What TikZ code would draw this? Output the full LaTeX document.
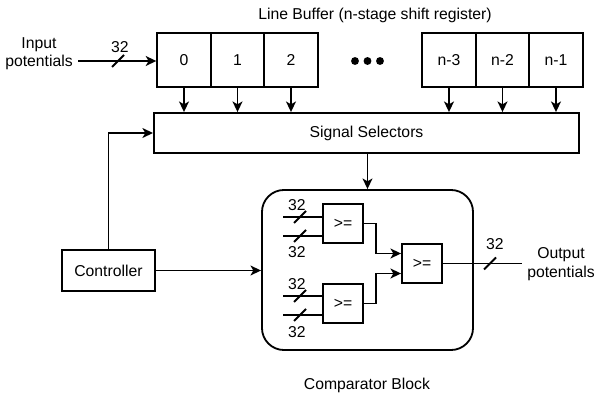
\documentclass[tikz,border=0pt]{standalone}
\usepackage{fontspec}
\setmainfont{Liberation Sans}
\usetikzlibrary{arrows.meta}
\begin{document}
\begin{tikzpicture}[x=0.025cm, y=-0.025cm, line width=1.3pt,
    >={Stealth[length=7.5pt,width=7pt,inset=2pt]}]
      \tikzstyle{every node} = [font=\fontsize{11.2}{13}\selectfont]
      \tikzstyle{cell} = [draw, inner sep=0pt, minimum width=1.3375cm, minimum height=1.35cm]
      \tikzstyle{gate} = [draw, inner sep=0pt, minimum width=1.0cm, minimum height=0.975cm]
      \useasboundingbox (0,0) rectangle (595,394);

      % line buffer
      \node at (375,15) {Line Buffer (n-stage shift register)};
      \foreach \i/\t in {0/0,1/1,2/2}{
        \node[cell] (c\i) at (184+53.5*\i,60) {\t};
      }
      \foreach \i/\t in {3/n-3,4/n-2,5/n-1}{
        \node[cell] (c\i) at (449+53.5*\i-160.5,60) {\t};
      }
      \foreach \x in {355,367.5,380}{
        \fill (\x,61) circle (2.8pt);
      }

      \node[align=center] (inp) at (39,53.5) {Input\\potentials};
      \coordinate (inpstart) at (78,61);
      \draw[->] (inpstart) -- (inpstart -| c0.west);
      \draw (118,61) ++(-6,6) -- ++(12,-12);
      \node at (120,47) {32};

      % selectors and controller
      \node[draw, minimum width=10.625cm, minimum height=1.0cm] (sel) at (366.5,133) {Signal Selectors};
      \foreach \i in {0,...,5}{
        \draw[->] (c\i.south) -- (c\i.south |- sel.north);
      }
      \node[draw, minimum width=2.325cm, minimum height=1.025cm] (ctrl) at (108.5,270.5) {Controller};
      \draw[->] (ctrl.north) |- (sel.west);

      % comparator block
      \node[draw, rounded corners=0.55cm, minimum width=5.275cm, minimum height=4.0cm] (cmp) at (367.5,270) {};
      \node at (367,385) {Comparator Block};
      \draw[->] (sel.south -| cmp.north) -- (cmp.north);
      \draw[->] (ctrl.east) -- (ctrl.east -| cmp.west);

      \node[gate] (g1) at (343,223.5) {>=};
      \node[gate] (g2) at (343,303.5) {>=};
      \node[gate] (g3) at (422,263.5) {>=};
      \foreach \y/\g/\ly in {217/g1/205, 236/g1/252, 296/g2/284, 315/g2/332}{
        \coordinate (in\y) at (283,\y);
        \draw (in\y) -- (in\y -| \g.west);
        \draw (300,\y) ++(-6,6) -- ++(12,-12);
        \node at (297,\ly) {32};
      }
      \draw[->] (g1.east) -- (376,223.5) |- ([yshift=0.25cm]g3.west);
      \draw[->] (g2.east) -- (376,303.5) |- ([yshift=-0.25cm]g3.west);

      \coordinate (outend) at (522,263.5);
      \draw (g3.east) -- (outend);
      \draw (490,263.5) ++(-6,6) -- ++(12,-12);
      \node at (495,244) {32};
      \node[align=center] (outp) at (561,264) {Output\\potentials};
    \end{tikzpicture}
\end{document}
